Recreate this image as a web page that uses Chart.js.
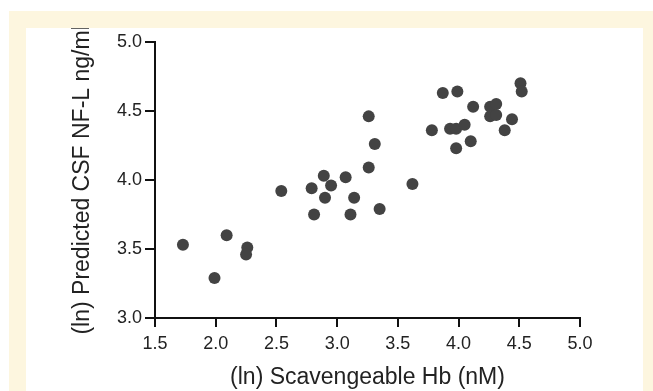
<!DOCTYPE html>
<html>
<head>
<meta charset="utf-8">
<script src="https://cdn.jsdelivr.net/npm/chart.js@4/dist/chart.umd.min.js"></script>
<style>
  html, body { margin: 0; padding: 0; background: #fff; }
  #frame { position: absolute; left: 9px; top: 11px; width: 644px; height: 380px; background: #fdf6df; }
  #wrap { position: absolute; left: 26px; top: 28px; width: 617px; height: 363px; background: #fff; }
</style>
</head>
<body>
<div id="frame"></div>
<div id="wrap"><canvas id="scatterChart" width="617" height="363"></canvas></div>
<script>
// (ln) scavengeable Hb vs (ln) predicted CSF NF-L
const hbValues = [
  1.73, 1.99, 2.09, 2.26, 2.25, 2.54, 2.79, 2.81, 2.89, 2.90, 2.95, 3.07,
  3.11, 3.14, 3.26, 3.26, 3.31, 3.35, 3.62, 3.78, 3.87, 3.99, 3.93, 3.98,
  3.98, 4.05, 4.10, 4.12, 4.26, 4.26, 4.31, 4.31, 4.38, 4.44, 4.51, 4.52
];
const nflValues = [
  3.53, 3.29, 3.60, 3.51, 3.46, 3.92, 3.94, 3.75, 4.03, 3.87, 3.96, 4.02,
  3.75, 3.87, 4.09, 4.46, 4.26, 3.79, 3.97, 4.36, 4.63, 4.64, 4.37, 4.37,
  4.23, 4.40, 4.28, 4.53, 4.53, 4.46, 4.55, 4.47, 4.36, 4.44, 4.70, 4.64
];
const xTicks = [1.5, 2.0, 2.5, 3.0, 3.5, 4.0, 4.5, 5.0];
const yTicks = [3.0, 3.5, 4.0, 4.5, 5.0];

const points = hbValues.map((x, i) => ({ x: x, y: nflValues[i] }));

const ctx = document.getElementById("scatterChart").getContext("2d");
const fontFamily = "'Liberation Sans', Arial, sans-serif";

new Chart(ctx, {
    type: "scatter",
    data: {
        datasets: [{
            data: points,
            backgroundColor: "#434343",
            borderWidth: 0,
            pointRadius: 6,
            pointHoverRadius: 6
        }]
    },
    options: {
        responsive: false,
        animation: false,
        layout: { padding: { top: 8, right: 63, left: 0, bottom: 0 } },
        plugins: { legend: { display: false }, tooltip: { enabled: false } },
        scales: {
            x: {
                type: "linear",
                min: 1.5,
                max: 5.0,
                afterBuildTicks: (scale) => { scale.ticks = xTicks.map(v => ({ value: v })); },
                afterFit: (scale) => { scale.height = 73; },
                border: { color: "#111", width: 2 },
                grid: { drawOnChartArea: false, color: "#111", lineWidth: 2, tickLength: 9 },
                ticks: {
                    color: "#222",
                    padding: 6,
                    maxRotation: 0,
                    font: { family: fontFamily, size: 18 },
                    callback: (v) => Number(v).toFixed(1)
                },
                title: {
                    display: true,
                    text: "(ln) Scavengeable Hb (nM)",
                    color: "#222",
                    padding: { top: 0, bottom: 0 },
                    font: { family: fontFamily, size: 23 }
                }
            },
            y: {
                type: "linear",
                min: 3.0,
                max: 5.0,
                afterBuildTicks: (scale) => { scale.ticks = yTicks.map(v => ({ value: v })); },
                afterFit: (scale) => { scale.width = 129; },
                border: { color: "#111", width: 2 },
                grid: { drawOnChartArea: false, color: "#111", lineWidth: 2, tickLength: 10 },
                ticks: {
                    color: "#222",
                    padding: 3,
                    font: { family: fontFamily, size: 18 },
                    callback: (v) => Number(v).toFixed(1)
                },
                title: {
                    display: true,
                    text: "(ln) Predicted CSF NF-L ng/ml",
                    color: "#222",
                    padding: { top: 43, bottom: 0 },
                    font: { family: fontFamily, size: 23 }
                }
            }
        }
    }
});
</script>
</body>
</html>
